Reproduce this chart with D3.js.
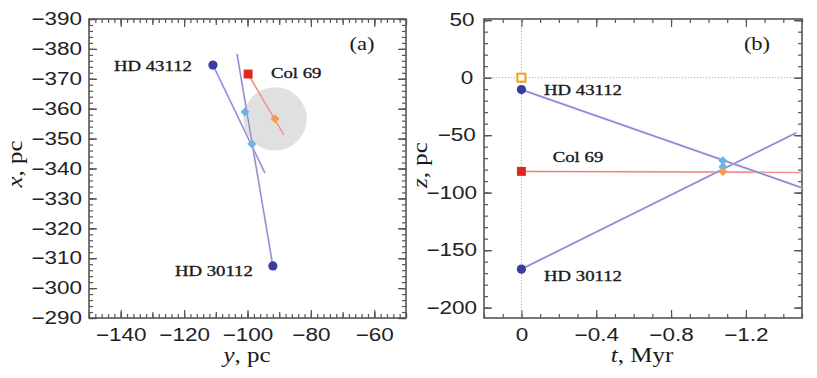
<!DOCTYPE html>
<html><head><meta charset="utf-8">
<script src="https://cdn.jsdelivr.net/npm/d3@7"></script>
<style>
body { margin: 0; background: #fff; }
svg { font-family: "Liberation Serif", "Times New Roman", serif; }
.tick text { font-size: 18px; fill: #222; transform-box: fill-box; transform-origin: center; transform: scaleX(1.25); }
.tick line { stroke: #555; stroke-width: 1.2; }
</style></head><body>
<svg id="chart" width="817" height="378"></svg>
<script>
// panel (a): tracks in the galactic plane, points are [y, x] in pc
var hd43112Track = [[-110.9, -374.6], [-94.5, -338.5]];
var hd30112Track = [[-92.0, -307.4], [-103.3, -378.3]];
var col69Track = [[-99.8, -371.6], [-88.5, -351.2]];
var col69Center = [-91.3, -356.6];
var col69Radius = 10;
var meetA = [[-100.8, -358.9], [-98.6, -348.2]];

// panel (b): z against time, points are [t, z]
var hd43112Z = [[0, -10.4], [-1.5, -95.8]];
var hd30112Z = [[0, -166.5], [-1.47, -47.9]];
var col69Z = [[0, -81.5], [-1.5, -82.3]];
var sunZ = [0, 0];
var meetB = [[-1.077, -72.3], [-1.077, -77.5]];
var col69MeetB = [-1.077, -81.6];

// tick labels
var yTicksA = [-140, -120, -100, -80, -60];
var xTicksA = [-390, -380, -370, -360, -350, -340, -330, -320, -310, -300, -290];
var tTicksB = [0, -0.4, -0.8, -1.2];
var zTicksB = [50, 0, -50, -100, -150, -200];

var blueDot = '#3b3d9e', lineLight = '#c4c2ec', lineDark = '#6966c0';
var redSq = '#e0281c', orange = '#f59a48', lightBlue = '#6fb1e6';

var svg = d3.select('#chart');

var xA = d3.scaleLinear().domain([-150, -50]).range([89, 406]);
var yA = d3.scaleLinear().domain([-390, -290]).range([19, 318]);
var xB = d3.scaleLinear().domain([0.2, -1.5]).range([484, 802]);
var yB = d3.scaleLinear().domain([51, -209]).range([19, 318]);

function axes(x, y, xMinor, xMid, xLab, yMinor, yMid, yLab, fmtX) {
  var top = y.range()[0], bot = y.range()[1], l = x.range()[0], r = x.range()[1];
  var g = svg.append('g');
  // unlabelled ticks, mirrored on all four sides
  [[xMinor, 4], [xMid, 6]].forEach(function(p) {
    g.append('g').attr('transform', 'translate(0,' + bot + ')')
      .call(d3.axisBottom(x).tickValues(p[0]).tickSize(-p[1]).tickFormat(''));
    g.append('g').attr('transform', 'translate(0,' + top + ')')
      .call(d3.axisTop(x).tickValues(p[0]).tickSize(-p[1]).tickFormat(''));
  });
  [[yMinor, 4], [yMid, 7]].forEach(function(p) {
    g.append('g').attr('transform', 'translate(' + l + ',0)')
      .call(d3.axisLeft(y).tickValues(p[0]).tickSize(-p[1]).tickFormat(''));
    g.append('g').attr('transform', 'translate(' + r + ',0)')
      .call(d3.axisRight(y).tickValues(p[0]).tickSize(-p[1]).tickFormat(''));
  });
  // labelled ticks
  g.append('g').attr('transform', 'translate(0,' + bot + ')')
    .call(d3.axisBottom(x).tickValues(xLab).tickSize(-8).tickPadding(10).tickFormat(fmtX));
  g.append('g').attr('transform', 'translate(0,' + top + ')')
    .call(d3.axisTop(x).tickValues(xLab).tickSize(-8).tickFormat(''));
  g.append('g').attr('transform', 'translate(' + l + ',0)')
    .call(d3.axisLeft(y).tickValues(yLab).tickSize(-8).tickPadding(12).tickFormat(d3.format('d')));
  g.append('g').attr('transform', 'translate(' + r + ',0)')
    .call(d3.axisRight(y).tickValues(yLab).tickSize(-8).tickFormat(''));
  g.selectAll('.domain').remove();
  svg.append('rect').attr('x', l).attr('y', top)
    .attr('width', r - l).attr('height', bot - top)
    .attr('fill', 'none').attr('stroke', '#555').attr('stroke-width', 1.6);
}

function label(txt, cx, by, size, italicFirst, rot, heavy) {
  var t = svg.append('text')
    .attr('transform', 'translate(' + cx + ',' + by + ')' + (rot ? ' rotate(-90)' : '') + ' scale(1.25,1)')
    .attr('text-anchor', 'middle').attr('font-size', size).attr('fill', '#1a1a1a');
  if (heavy) t.attr('stroke', '#1a1a1a').attr('stroke-width', 0.35);
  if (italicFirst) {
    t.append('tspan').attr('font-style', 'italic').text(txt[0]);
    t.append('tspan').text(txt[1]);
  } else t.text(txt);
}

function track(g, pts, x, y, light, dark, w) {
  var line = d3.line().x(function(d) { return x(d[0]); }).y(function(d) { return y(d[1]); });
  g.append('path').attr('d', line(pts)).attr('fill', 'none').attr('stroke', light).attr('stroke-width', w + 0.8);
  g.append('path').attr('d', line(pts)).attr('fill', 'none').attr('stroke', dark).attr('stroke-width', w * 0.55);
}

function diamond(g, p, x, y, col) {
  g.append('path').attr('d', d3.symbol(d3.symbolSquare, 40)())
    .attr('transform', 'translate(' + x(p[0]) + ',' + y(p[1]) + ') rotate(45)')
    .attr('fill', col);
}

function square(g, p, x, y, col) {
  g.append('path').attr('d', d3.symbol(d3.symbolSquare, 80)())
    .attr('transform', 'translate(' + x(p[0]) + ',' + y(p[1]) + ')')
    .attr('fill', col);
}

function dot(g, p, x, y) {
  g.append('circle').attr('cx', x(p[0])).attr('cy', y(p[1])).attr('r', 4.6).attr('fill', blueDot);
}

// ---------- panel (a)
axes(xA, yA,
  d3.range(-150, -49, 2), d3.range(-150, -49, 10), yTicksA,
  d3.range(-390, -289, 2), d3.range(-390, -289, 10), xTicksA,
  d3.format('d'));

var pa = svg.append('g');
pa.append('circle').attr('cx', xA(col69Center[0])).attr('cy', yA(col69Center[1]))
  .attr('r', xA(col69Center[0] + col69Radius) - xA(col69Center[0])).attr('fill', '#e0e0e0');
track(pa, hd43112Track, xA, yA, lineLight, lineDark, 1.2);
track(pa, hd30112Track, xA, yA, lineLight, lineDark, 1.2);
track(pa, col69Track, xA, yA, '#f7bcb8', '#e85a55', 1.1);
meetA.forEach(function(p) { diamond(pa, p, xA, yA, lightBlue); });
diamond(pa, col69Center, xA, yA, orange);
dot(pa, hd43112Track[0], xA, yA);
dot(pa, hd30112Track[0], xA, yA);
square(pa, col69Track[0], xA, yA, redSq);

label('HD 43112', xA(hd43112Track[0][0]) - 60, yA(hd43112Track[0][1]) + 6, 15, false, false, true);
label('Col 69', xA(col69Track[0][0]) + 48, yA(col69Track[0][1]) + 4, 15, false, false, true);
label('HD 30112', xA(hd30112Track[0][0]) - 59, yA(hd30112Track[0][1]) + 10, 15, false, false, true);
label('(a)', 362, 50, 18);
label(['y', ', pc'], 247, 362, 20, true);
label(['x', ', pc'], 22, 164, 20, true, true);

// ---------- panel (b)
axes(xB, yB,
  d3.range(-15, 3).map(function(i) { return i / 10; }), [], tTicksB,
  d3.range(-200, 51, 10), zTicksB, zTicksB,
  function(d) { return d === 0 ? '0' : d3.format('.1f')(d); });

var pb = svg.append('g');
pb.append('line').attr('x1', xB(0)).attr('x2', xB(0)).attr('y1', yB.range()[0]).attr('y2', yB.range()[1])
  .attr('stroke', '#aaa').attr('stroke-width', 1).attr('stroke-dasharray', '1.2,1.8');
pb.append('line').attr('x1', xB.range()[0]).attr('x2', xB.range()[1]).attr('y1', yB(0)).attr('y2', yB(0))
  .attr('stroke', '#aaa').attr('stroke-width', 1).attr('stroke-dasharray', '1.2,1.8');
track(pb, col69Z, xB, yB, '#f8c0bc', '#ec5550', 1.2);
track(pb, hd43112Z, xB, yB, lineLight, lineDark, 1.5);
track(pb, hd30112Z, xB, yB, lineLight, lineDark, 1.5);
meetB.forEach(function(p) { diamond(pb, p, xB, yB, lightBlue); });
diamond(pb, col69MeetB, xB, yB, orange);
dot(pb, hd43112Z[0], xB, yB);
dot(pb, hd30112Z[0], xB, yB);
square(pb, col69Z[0], xB, yB, redSq);
pb.append('rect').attr('x', xB(sunZ[0]) - 4).attr('y', yB(sunZ[1]) - 4).attr('width', 8).attr('height', 8)
  .attr('fill', '#fff').attr('stroke', '#f0a010').attr('stroke-width', 2);

label('HD 43112', 583, yB(hd43112Z[0][1]) + 5, 15, false, false, true);
label('Col 69', 578, yB(col69Z[0][1]) - 9, 15, false, false, true);
label('HD 30112', 583, yB(hd30112Z[0][1]) + 12, 15, false, false, true);
label('(b)', 757, 50, 18);
label(['t', ', Myr'], 642, 362, 20, true);
label(['z', ', pc'], 427, 165, 20, true, true);
</script>
</body></html>
